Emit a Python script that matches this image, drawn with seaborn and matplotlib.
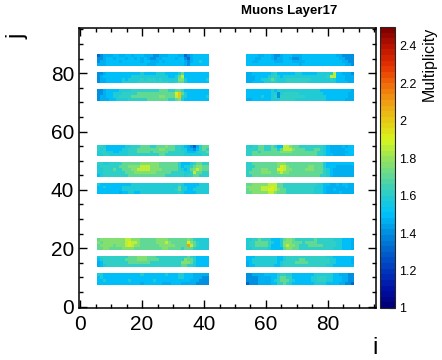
import numpy as np
import pandas as pd
import seaborn as sns
import matplotlib
matplotlib.use("Agg")
import matplotlib.pyplot as plt
from matplotlib.colors import LinearSegmentedColormap
from matplotlib.ticker import FixedLocator

# ---------------- data ----------------
# cell code -> multiplicity
LEVEL_CODES = "0123456789ab"
LEVEL_VALUES = [1.30, 1.40, 1.45, 1.50, 1.57, 1.63, 1.70, 1.77, 1.85, 1.92, 2.00, 2.10]

# strips: rows listed from top (highest j) to bottom, one code per i column
tl_a = ["012223 322332 333222 112223 332201 233333",
        "112332 333233 232321 122333 323310 233333",
        "122333 323333 332332 223233 333321 233433",
        "222333 333333 333322 233333 333321 333333"]
tl_b = ["112333 333333 334333 344433 334633 333333",
        "123333 333334 444444 444443 346833 333333",
        "122333 334344 445455 545444 447743 333334",
        "122333 334444 455555 555554 456643 333333"]
tl_c = ["112333 344445 555555 556665 566533 333333",
        "112334 445555 566666 666666 69a643 333333",
        "122334 455556 666666 667766 68a543 333334",
        "122233 444455 555566 666665 567433 333333"]
tr_a = ["333322 332112 333222 333333 333332 21111",
        "333223 332122 332112 333333 333333 22111",
        "332233 333222 333222 233333 333333 32211",
        "333333 333333 333332 333333 333333 33221"]
tr_b = ["223333 334533 333344 333334 444483 32221",
        "222333 345543 444444 444444 445883 33222",
        "222334 456544 455555 555444 444543 33222",
        "223333 445544 455555 554444 444443 33322"]
tr_c = ["333333 334344 444444 444444 333333 33332",
        "333333 334414 555554 444444 433333 33322",
        "333334 334515 555555 544444 443333 33322",
        "223333 334445 555544 444444 443333 33222"]
ml_a = ["554333 333445 556665 566676 655432 102566",
        "545333 334455 566666 667766 655442 213565",
        "455443 344455 566665 666665 555543 334556",
        "445544 444455 555555 556655 555544 444455"]
ml_b = ["554455 556666 667777 776666 665333 456655",
        "455555 566677 778887 776666 665344 567766",
        "445556 556667 788887 777666 665434 678766",
        "445555 555666 777777 766666 555544 586655",
        "345555 555566 666666 666655 555545 566555"]
ml_c = ["433333 333334 444444 444444 445433 333444",
        "334333 334444 444444 444444 446443 334444",
        "333333 334444 444444 444444 456443 344444",
        "333333 323344 334444 444444 445433 334444"]
mr_a = ["545566 556533 887665 555555 543222 23233",
        "555566 556646 888766 655566 543222 22333",
        "556656 666667 777666 666665 543222 22233",
        "556666 666666 666666 666665 543322 22333"]
mr_b = ["556666 666677 766666 666666 643333 33333",
        "555666 666679 876666 667766 643332 22222",
        "556667 766699 877666 677766 654322 22222",
        "566667 776678 776666 666666 654322 22222",
        "556666 666666 666666 666666 554322 22222"]
mr_c = ["667777 788866 555555 555554 433223 23322",
        "777778 889866 555555 555544 432222 22322",
        "677778 899876 655555 555544 432232 22222",
        "667777 788766 655555 555544 432222 32222"]
bl_a = ["677777 777887 776666 677776 666667 654444",
        "767777 777898 876666 677787 666669 765444",
        "677776 777898 776666 667777 76666b 865444",
        "667766 667777 666666 666776 666566 654444"]
bl_b = ["455555 555566 677766 655555 555556 543333",
        "345555 555666 677766 665555 555576 653333",
        "235555 555566 666665 555555 555777 643333",
        "234555 555555 555555 555555 555665 543333"]
bl_c = ["443333 333333 334333 333343 334433 322222",
        "343333 333333 333333 333333 334433 322211",
        "334333 333343 333333 433333 333333 222111",
        "333333 333333 332333 333222 333222 221111"]
br_a = ["445565 553334 677655 555565 555544 43332",
        "455666 654334 777666 566665 555554 43332",
        "455666 653334 787765 556666 655554 43332",
        "445555 543333 677665 555555 555544 43332"]
br_b = ["333444 444433 455555 555555 554433 33333",
        "334444 444433 455556 655555 555443 33332",
        "234444 444434 555566 665555 555443 33332",
        "233444 444334 555555 555555 554433 33333"]
br_c = ["112222 333345 544333 333344 444433 22211",
        "111122 223356 655333 333445 554433 32211",
        "111122 223456 665433 333445 554433 32211",
        "011122 223355 654333 333344 443333 22110"]

STRIP_ROWS = [tl_a, tl_b, tl_c, tr_a, tr_b, tr_c,
              ml_a, ml_b, ml_c, mr_a, mr_b, mr_c,
              bl_a, bl_b, bl_c, br_a, br_b, br_c]
STRIP_FIRST_I = [6, 6, 6, 54, 54, 54,
                 6, 6, 6, 54, 54, 54,
                 6, 6, 6, 54, 54, 54]
STRIP_TOP_J = [86, 80, 74, 86, 80, 74,
               55, 49, 42, 55, 49, 42,
               23, 17, 11, 23, 17, 11]

NBINS = 96
X_TICKS = [0, 20, 40, 60, 80]
Y_TICKS = [0, 20, 40, 60, 80]
CBAR_TICKS = [1.0, 1.2, 1.4, 1.6, 1.8, 2.0, 2.2, 2.4]
CBAR_LABELS = ["1", "1.2", "1.4", "1.6", "1.8", "2", "2.2", "2.4"]

# ---------------- build table ----------------
lookup = dict(zip(LEVEL_CODES, LEVEL_VALUES))
grid = np.full((NBINS, NBINS), np.nan)
for rows, i0, jtop in zip(STRIP_ROWS, STRIP_FIRST_I, STRIP_TOP_J):
    for r, row in enumerate(rows):
        codes = row.replace(" ", "")
        for c, ch in enumerate(codes):
            grid[jtop - r, i0 + c] = lookup[ch]
df = pd.DataFrame(grid, index=range(NBINS), columns=range(NBINS))

# ROOT-like rainbow palette, 50 steps
anchors = [(1.0, (0, 0, 120)), (1.1, (0, 20, 170)), (1.2, (0, 60, 190)),
           (1.3, (0, 100, 205)), (1.4, (0, 145, 225)), (1.5, (0, 195, 250)),
           (1.6, (40, 205, 205)), (1.7, (95, 215, 150)), (1.8, (150, 228, 90)),
           (1.9, (215, 245, 30)), (2.0, (230, 205, 20)), (2.1, (240, 160, 20)),
           (2.2, (240, 110, 10)), (2.3, (230, 50, 0)), (2.4, (190, 20, 0)),
           (2.5, (130, 0, 0))]
cmap = LinearSegmentedColormap.from_list(
    "rootrain", [((v - 1.0) / 1.5, tuple(c / 255 for c in rgb)) for v, rgb in anchors], N=50)

# ---------------- plot ----------------
sns.set_theme(style="white")
plt.rcParams["font.family"] = ["Liberation Sans", "DejaVu Sans"]
plt.rcParams.update({"text.color": "black", "axes.labelcolor": "black",
                     "xtick.color": "black", "ytick.color": "black"})

W, H = 442, 360
fig = plt.figure(figsize=(W / 100, H / 100), dpi=100)
ax = fig.add_axes([78.5 / W, 1 - 308 / H, (376 - 78.5) / W, (308 - 28) / H])
cax = fig.add_axes([379.5 / W, 1 - 308 / H, 15.5 / W, (308 - 27) / H])

sns.heatmap(df, ax=ax, cmap=cmap, vmin=1.0, vmax=2.5, cbar_ax=cax,
            xticklabels=False, yticklabels=False)

ax.set_xlim(0, NBINS)
ax.set_ylim(0, NBINS)
ax.set_xlabel("")
ax.set_ylabel("")
for s in ax.spines.values():
    s.set_visible(True)
    s.set_color("black")
    s.set_linewidth(1.1)

ax.xaxis.set_major_locator(FixedLocator([t + 0.5 for t in X_TICKS]))
ax.yaxis.set_major_locator(FixedLocator([t + 0.5 for t in Y_TICKS]))
ax.set_xticklabels([str(t) for t in X_TICKS])
ax.set_yticklabels([str(t) for t in Y_TICKS], rotation=0)
ax.xaxis.set_minor_locator(FixedLocator([k + 0.5 for k in range(0, NBINS, 5)]))
ax.yaxis.set_minor_locator(FixedLocator([k + 0.5 for k in range(0, NBINS, 5)]))
ax.tick_params(which="both", direction="in", top=True, right=True,
               bottom=True, left=True, color="black", labelcolor="black", width=1.0)
ax.tick_params(which="major", length=6, labelsize=15, pad=3)
ax.tick_params(which="minor", length=3)
ax.tick_params(axis="x", which="major", pad=5)

# colorbar
cbar = ax.collections[0].colorbar
cbar.set_ticks(CBAR_TICKS)
cbar.set_ticklabels(CBAR_LABELS)
cbar.outline.set_visible(True)
cbar.outline.set_linewidth(0.8)
cax.tick_params(direction="in", length=4, width=0.8, labelsize=9, pad=3,
                right=True, left=False, color="black", labelcolor="black")
cax.set_ylabel("Multiplicity", fontsize=11.5, loc="top", labelpad=4, color="black")

fig.text(289 / W, 1 - 11 / H, "Muons Layer17", ha="center", va="center",
         fontsize=9.5, fontweight="bold", color="black")
fig.text(17 / W, 1 - 36 / H, "j", rotation=90, ha="center", va="center",
         fontsize=17, color="black")
fig.text(375 / W, 1 - 348 / H, "i", ha="center", va="center", fontsize=17,
         color="black")

fig.savefig("out.png", dpi=100, facecolor="white")
